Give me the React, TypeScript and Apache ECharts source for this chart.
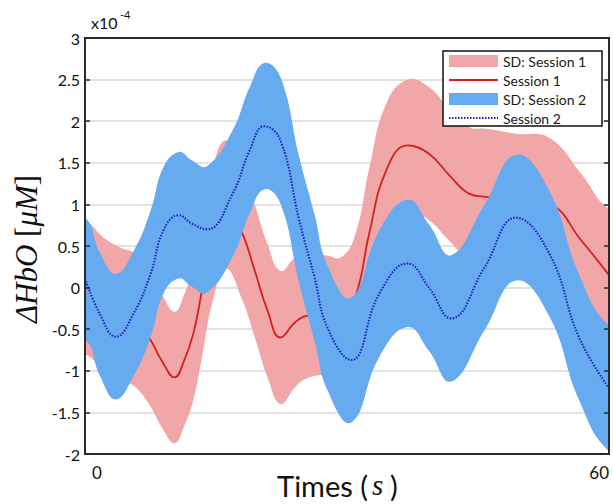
import React, { useEffect, useRef } from "react";
import * as echarts from "echarts";

// Time axis (s)
const X_MIN = -1.4;
const X_MAX = 60;
const X_TICK_LABELS = [0, 60];

// Y axis (x10^-4)
const Y_MIN = -2;
const Y_MAX = 3;
const Y_STEP = 0.5;

// Session 1 (red)
const TIME_1 = [-1.4, 0.8, 2.8, 4.3, 6.1, 7.6, 9.1, 10.2, 11.3, 12.3, 13.6, 15.1, 17.0, 18.5, 20.0, 21.5, 23.2, 24.6, 26.7, 28.7, 30.4, 31.9, 33.9, 36.4, 38.9, 41.3, 43.6, 45.6, 49.1, 53.0, 56.8, 60];
const MEAN_1 = [0.0, -0.2, -0.32, -0.38, -0.6, -0.88, -1.08, -0.88, -0.55, -0.04, 0.65, 1.0, 0.66, 0.2, -0.28, -0.6, -0.42, -0.34, -0.33, -0.35, -0.07, 0.65, 1.41, 1.71, 1.61, 1.35, 1.13, 1.09, 1.05, 1.0, 0.56, 0.15];
const SD_1 = [0.8, 0.8, 0.8, 0.8, 0.8, 0.8, 0.79, 0.79, 0.8, 0.8, 0.8, 0.77, 0.8, 0.8, 0.8, 0.8, 0.78, 0.75, 0.72, 0.72, 0.75, 0.78, 0.8, 0.79, 0.8, 0.79, 0.8, 0.82, 0.8, 0.8, 0.8, 0.8];

// Session 2 (blue)
const TIME_2 = [-1.4, 0.35, 2.2, 4.3, 6.3, 7.8, 9.6, 11.1, 12.9, 15.9, 17.9, 19.6, 21.5, 23.7, 25.5, 27.0, 29.8, 33.1, 36.4, 38.9, 41.5, 45.4, 49.1, 53.0, 56.5, 60];
const MEAN_2 = [0.11, -0.32, -0.59, -0.31, 0.17, 0.69, 0.87, 0.77, 0.7, 1.13, 1.65, 1.94, 1.77, 0.81, 0.12, -0.48, -0.87, -0.07, 0.29, 0.0, -0.37, 0.24, 0.84, 0.41, -0.6, -1.21];
const SD_2 = [0.73, 0.74, 0.755, 0.75, 0.76, 0.76, 0.76, 0.76, 0.76, 0.76, 0.76, 0.76, 0.76, 0.76, 0.76, 0.75, 0.75, 0.76, 0.765, 0.76, 0.76, 0.755, 0.755, 0.755, 0.755, 0.755];

const LEGEND_NAMES = ["SD: Session 1", "Session 1", "SD: Session 2", "Session 2"];

const PINK = "#f1a7a7";
const RED = "#d61f1f";
const BLUE_BAND = "#66abef";
const BLUE_LINE = "#1c1cc0";
const AXIS = "#2a2a2a";
const FONT = "Lato, 'Open Sans', sans-serif";
const SERIF = "'Liberation Serif', serif";
const SMOOTH = 0.45;

function bandSeries(name: string, time: number[], mean: number[], sd: number[], color: string, z: number) {
  return {
    name,
    type: "custom",
    coordinateSystem: "cartesian2d",
    z,
    clip: true,
    silent: true,
    itemStyle: { color },
    data: [[time[0], mean[0]]],
    renderItem: (params: any, api: any) => {
      const up = time.map((t, i) => api.coord([t, mean[i] + sd[i]]));
      const lo = time.map((t, i) => api.coord([t, mean[i] - sd[i]]));
      const n = time.length;
      const ext = 25;
      const pts = [
        [up[0][0] - ext, up[0][1]],
        ...up,
        [up[n - 1][0] + ext, up[n - 1][1]],
        [lo[n - 1][0] + ext, lo[n - 1][1]],
        ...lo.slice().reverse(),
        [lo[0][0] - ext, lo[0][1]],
      ];
      const cs = params.coordSys;
      return {
        type: "polygon",
        shape: { points: pts, smooth: SMOOTH },
        style: { fill: color, stroke: null },
        clipPath: { type: "rect", shape: { x: cs.x, y: cs.y, width: cs.width - 1, height: cs.height } },
      };
    },
  };
}

export default function App() {
  const ref = useRef<HTMLDivElement>(null);

  useEffect(() => {
    const chart = echarts.init(ref.current!, null, { renderer: "svg" });
    const pair = (t: number[], v: number[]) => t.map((x, i) => [x, v[i]]);
    const frameY = {
      type: "value",
      min: Y_MIN,
      max: Y_MAX,
      interval: Y_STEP,
      z: 10,
      axisLine: { show: true, onZero: false, lineStyle: { color: AXIS, width: 2 } },
      axisTick: { show: true, inside: true, length: 5, lineStyle: { color: AXIS, width: 1.5 } },
      axisLabel: { show: false },
      splitLine: { show: false },
    };

    chart.setOption({
      animation: false,
      grid: {
        left: 85,
        right: 4,
        top: 38,
        bottom: 50,
        show: true,
        borderColor: AXIS,
        borderWidth: 2,
        backgroundColor: "transparent",
      },
      legend: {
        left: 444,
        top: 51,
        orient: "vertical",
        selectedMode: false,
        itemWidth: 49,
        itemHeight: 12,
        itemGap: 5,
        padding: [3, 0, 3, 4],
        borderWidth: 0,
        z: 20,
        textStyle: { fontSize: 14, lineHeight: 14, color: "#1a1a1a", fontFamily: FONT },
        data: [
          { name: LEGEND_NAMES[0], icon: "rect" },
          { name: LEGEND_NAMES[1], itemStyle: { opacity: 0 } },
          { name: LEGEND_NAMES[2], icon: "rect" },
          { name: LEGEND_NAMES[3], itemStyle: { opacity: 0 } },
        ],
      },
      xAxis: [
        {
          type: "value",
          min: X_MIN,
          max: X_MAX,
          z: 10,
          axisLine: { show: true, onZero: false, lineStyle: { color: AXIS, width: 2 } },
          axisTick: { show: false },
          splitLine: { show: false },
          axisLabel: {
            customValues: X_TICK_LABELS,
            alignMaxLabel: "right",
            margin: 10,
            fontSize: 17,
            color: "#111",
            fontFamily: FONT,
          },
        },
        {
          type: "value",
          position: "top",
          min: X_MIN,
          max: X_MAX,
          z: 10,
          axisLine: { show: true, onZero: false, lineStyle: { color: AXIS, width: 2 } },
          axisTick: { show: false },
          axisLabel: { show: false },
          splitLine: { show: false },
        },
      ],
      yAxis: [
        {
          type: "value",
          position: "left",
          min: Y_MIN,
          max: Y_MAX,
          interval: Y_STEP,
          z: 0,
          axisLine: { show: false, onZero: false },
          axisTick: { show: false },
          axisLabel: { margin: 5, fontSize: 16, color: "#111", fontFamily: FONT },
          splitLine: { show: true, lineStyle: { color: "#d9d9d9", width: 1.5 } },
        },
        { ...frameY, position: "right" },
        { ...frameY, position: "left", offset: 0 },
      ],
      graphic: [
        {
          type: "rect",
          z: 15,
          shape: { x: 443, y: 51, width: 159, height: 75 },
          style: { fill: "#fff", stroke: "#111", lineWidth: 1.5 },
        },
        {
          type: "text",
          left: 91,
          top: 14,
          style: { text: "x10", fontSize: 16, fill: "#111", fontFamily: FONT },
        },
        {
          type: "text",
          left: 120,
          top: 9,
          style: { text: "-4", fontSize: 11, fill: "#111", fontFamily: FONT },
        },
        {
          type: "text",
          x: 26,
          y: 249,
          rotation: Math.PI / 2,
          style: {
            text: "{i|ΔHbO} [{i|μM}]",
            fontSize: 31,
            fill: "#111",
            align: "center",
            verticalAlign: "middle",
            fontFamily: SERIF,
            rich: {
              i: { fontSize: 31, fontStyle: "italic", fontFamily: SERIF, fill: "#111" },
            },
          },
        },
        {
          type: "text",
          x: 368,
          y: 485,
          style: { text: "Times (", fontSize: 29, lineHeight: 29, fill: "#111", align: "right", verticalAlign: "middle", fontFamily: FONT },
        },
        {
          type: "text",
          x: 372,
          y: 485,
          style: { text: "s", fontSize: 29, lineHeight: 29, fontStyle: "italic", fill: "#111", align: "left", verticalAlign: "middle", fontFamily: SERIF },
        },
        {
          type: "text",
          x: 390,
          y: 485,
          style: { text: ")", fontSize: 29, lineHeight: 29, fill: "#111", align: "left", verticalAlign: "middle", fontFamily: FONT },
        },
      ],
      series: [
        bandSeries(LEGEND_NAMES[0], TIME_1, MEAN_1, SD_1, PINK, 1),
        {
          name: LEGEND_NAMES[1],
          type: "line",
          z: 2,
          data: pair(TIME_1, MEAN_1),
          symbol: "none",
          smooth: SMOOTH,
          itemStyle: { color: RED },
          lineStyle: { color: RED, width: 1.8 },
        },
        bandSeries(LEGEND_NAMES[2], TIME_2, MEAN_2, SD_2, BLUE_BAND, 3),
        {
          name: LEGEND_NAMES[3],
          type: "line",
          z: 4,
          data: pair(TIME_2, MEAN_2),
          symbol: "none",
          smooth: SMOOTH,
          itemStyle: { color: BLUE_LINE },
          lineStyle: { color: BLUE_LINE, width: 2, type: [1.5, 1.5] },
        },
      ],
    });
    return () => chart.dispose();
  }, []);

  return (
    <div
      ref={ref}
      style={{ position: "fixed", left: 0, top: 0, width: 613, height: 504, background: "#fff" }}
    />
  );
}
